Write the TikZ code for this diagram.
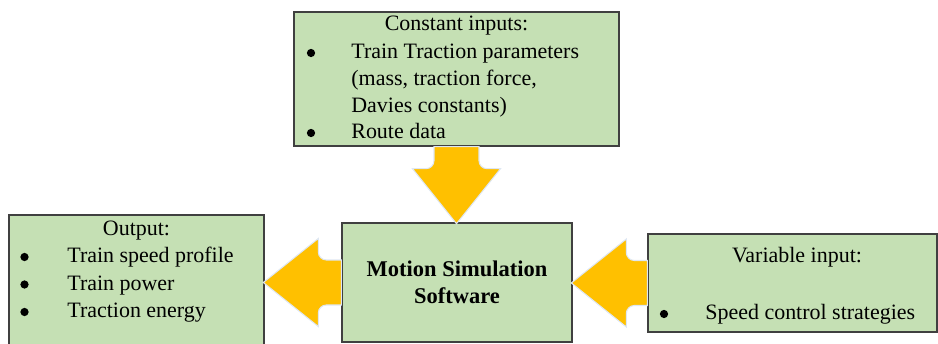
\documentclass[tikz,border=0pt]{standalone}
\usepackage{fontspec}
\setmainfont{Liberation Serif}
\definecolor{corCaixa}{RGB}{197, 224, 180}
\definecolor{bordaCaixa}{RGB}{ 64,  64,  64}
\definecolor{corSeta}{RGB}{255, 192,   0}
\definecolor{bordaSeta}{RGB}{222, 231, 243}

\tikzset{
  caixa/.style={draw=bordaCaixa, fill=corCaixa, line width=0.8pt},
  texto/.style={font=\fontsize{12.5}{15.6}\selectfont, inner sep=0pt},
  item/.style={texto, anchor=base west},
  marca/.style={circle, fill=black, inner sep=0pt, minimum size=0.165cm},
  titulo/.style={texto, anchor=base},
  destaque/.style={titulo, font=\fontsize{12.8}{15.6}\selectfont\bfseries},
  % seta larga: base em (0,0), ponta em (#1,0)
  pics/seta/.style={code={
    \filldraw[fill=corSeta, draw=bordaSeta, line width=0.6pt]
      (0mm,-4.5mm) -- ({#1-12.6mm},-4.5mm)
      arc[start angle=90, end angle=0, radius=1.6mm]
      -- ({#1-11mm},-8.8mm) -- (#1,0mm) -- ({#1-11mm},8.8mm)
      -- ({#1-11mm},6.1mm)
      arc[start angle=0, end angle=-90, radius=1.6mm]
      -- (0mm,4.5mm) -- cycle;
  }}
}

\begin{document}
\begin{tikzpicture}[x=0.02cm, y=-0.02cm]
  \clip (0,0) rectangle (938,344);

  %% ================================================================
  %%  CAIXAS
  %% ================================================================
  \node[caixa, minimum width=6.5cm,  minimum height=2.68cm] (entradaFixa) at (456.5, 79) {};
  \node[caixa, minimum width=4.6cm,  minimum height=2.38cm] (simulador)   at (457, 282.5) {};
  \node[caixa, minimum width=5.1cm,  minimum height=2.7cm]  (saida)       at (136.5, 282.5) {};
  \node[caixa, minimum width=5.78cm, minimum height=1.96cm] (entradaVar)  at (792.5, 283) {};

  %% ================================================================
  %%  SETAS
  %% ================================================================
  \path (entradaFixa.south) pic[rotate=-90] {seta=15.4mm};
  \path (simulador.west)    pic[rotate=180] {seta=15.6mm};
  \path (entradaVar.west)   pic[rotate=180] {seta=15.2mm};

  %% ================================================================
  %%  TEXTOS
  %% ================================================================
  % Entradas constantes
  \node[titulo] (fixaTit) at (456.5, 31) {Constant inputs:};
  \node[marca]  (fixaM1)  at (311, 53)   {};
  \node[item]   (fixaL1)  at (351, 59)   {Train Traction parameters};
  \node[item]   (fixaL2)  at (351, 86)   {(mass, traction force,};
  \node[item]   (fixaL3)  at (351, 113)  {Davies constants)};
  \node[marca]  (fixaM2)  at (311, 133)  {};
  \node[item]   (fixaL4)  at (351, 139)  {Route data};

  % Saída
  \node[titulo] (saidaTit) at (136.5, 235.5) {Output:};
  \node[marca]  (saidaM1)  at (24.5, 257)  {};
  \node[item]   (saidaL1)  at (67, 263)    {Train speed profile};
  \node[marca]  (saidaM2)  at (24.5, 284.5){};
  \node[item]   (saidaL2)  at (67, 290.5)  {Train power};
  \node[marca]  (saidaM3)  at (24.5, 312)  {};
  \node[item]   (saidaL3)  at (67, 318)    {Traction energy};

  % Simulador
  \node[destaque] (simL1) at (457, 276.7) {Motion Simulation};
  \node[destaque] (simL2) at (457, 303.5) {Software};

  % Entrada variável
  \node[titulo] (varTit) at (797, 263) {Variable input:};
  \node[marca]  (varM1)  at (664, 314) {};
  \node[item]   (varL1)  at (705, 320) {Speed control strategies};

\end{tikzpicture}
\end{document}
